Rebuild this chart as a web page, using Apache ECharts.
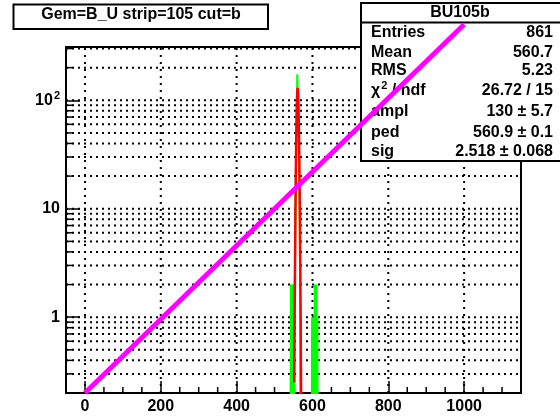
<!DOCTYPE html>
<html>
<head>
<meta charset="utf-8">
<script src="https://cdn.jsdelivr.net/npm/echarts@6/dist/echarts.min.js"></script>
<style>html,body{margin:0;padding:0;background:#fff}#c{width:560px;height:417px}</style>
</head>
<body>
<div id="c"></div>
<script>
// ---- data ----
const titleText = 'Gem=B_U strip=105 cut=b';
const statsTitle = 'BU105b';
const statsLabels = ['Entries', 'Mean', 'RMS', 'chi2', 'ampl', 'ped', 'sig'];
const statsValues = ['861', '560.7', '5.23', '26.72 / 15', '130 \u00b1 5.7', '560.9 \u00b1 0.1', '2.518 \u00b1 0.068'];

const xRange = [-50, 1150];
const yRange = [0.2, 310];
const xTickValues = [0, 200, 400, 600, 800, 1000];
const xMinorTickValues = [-50, 50, 100, 150, 250, 300, 350, 450, 500, 550, 650, 700, 750, 850, 900, 950, 1050, 1100, 1150];
const yTickValues = [1, 10, 100];
const yMinorTickValues = [0.3, 0.4, 0.5, 0.6, 0.7, 0.8, 0.9, 2, 3, 4, 5, 6, 7, 8, 9, 20, 30, 40, 50, 60, 70, 80, 90, 200, 300];
const yGridValues = [0.3, 0.4, 0.5, 0.6, 0.7, 0.8, 0.9, 1, 2, 3, 4, 5, 6, 7, 8, 9, 10, 20, 30, 40, 50, 60, 70, 80, 90, 100, 200, 300];

// histogram (bin low edges, counts)
const histX = [541, 542, 543, 544, 545, 546, 547, 548, 549, 550, 551, 552, 553, 554, 555, 556, 557, 558, 559, 560,
               561, 562, 563, 564, 565, 566, 567, 568, 569, 570,
               597, 598, 599, 600, 601, 602, 603, 604, 605, 606, 607, 608, 609, 610, 611, 612, 613, 614, 615, 616, 617];
const histY = [0, 0, 2, 0, 1, 0, 2, 1, 0, 2, 0, 1, 1, 3, 7, 15, 34, 62, 101, 174,
               128, 112, 84, 52, 27, 11, 4, 1, 0, 0,
               0, 0, 1, 0, 1, 0, 1, 1, 0, 2, 1, 2, 0, 2, 1, 0, 1, 1, 0, 0, 0];

// fitted curve points
const fitX = [552, 553, 554, 555, 556, 557, 558, 559, 560, 561, 562, 563, 564, 565, 566, 567, 568, 569, 570];
const fitY = [0.25, 0.95, 3.0, 8.3, 19.6, 39.2, 67, 97.8, 122, 130, 118, 91.8, 61, 34.5, 16.7, 6.9, 2.44, 0.74, 0.19];

// magenta straight line end points
const lineX = [0, 1000];
const lineY = [0.2, 500];

// ---- build ----
const FLOOR = 1e-3;
const histData = histX.map((x, i) => [x, histY[i] > 0 ? histY[i] : FLOOR]);
histData.push([histX[histX.length - 1] + 1, FLOOR]);
const fitData = fitX.map((x, i) => [x, fitY[i]]);
const lineData = lineX.map((x, i) => [x, lineY[i]]);

const FONT = '"Liberation Sans", Arial, Helvetica, sans-serif';
const dotted = { stroke: '#000', lineWidth: 2, lineDash: [2, 4] };

function hGrid(params, api) {
  const v = api.value(1);
  const a = api.coord([xRange[0], v]);
  const b = api.coord([xRange[1], v]);
  return { type: 'line', shape: { x1: a[0], y1: a[1], x2: b[0], y2: b[1] }, style: dotted, silent: true };
}
function vGrid(params, api) {
  const v = api.value(0);
  const a = api.coord([v, yRange[0]]);
  const b = api.coord([v, yRange[1]]);
  return { type: 'line', shape: { x1: a[0], y1: a[1], x2: b[0], y2: b[1] }, style: { stroke: '#000', lineWidth: 2, lineDash: [2, 5] }, silent: true };
}
function yMinor(params, api) {
  const a = api.coord([xRange[0], api.value(1)]);
  return { type: 'line', shape: { x1: a[0], y1: a[1], x2: a[0] + 7, y2: a[1] }, style: { stroke: '#000', lineWidth: 1.5 }, silent: true };
}
function xMinor(params, api) {
  const a = api.coord([api.value(0), yRange[0]]);
  return { type: 'line', shape: { x1: a[0], y1: a[1], x2: a[0], y2: a[1] - 6 }, style: { stroke: '#000', lineWidth: 1.5 }, silent: true };
}

const rowY = [33, 52.5, 71, 90.5, 111.5, 133, 152];
const statsElems = [
  { type: 'rect', z: 5, shape: { x: 361, y: 3, width: 210, height: 158 }, style: { fill: '#fff', stroke: '#000', lineWidth: 2 } },
  { type: 'line', z: 5, shape: { x1: 361, y1: 22.5, x2: 570, y2: 22.5 }, style: { stroke: '#000', lineWidth: 2 } },
  { type: 'text', z: 6, x: 460, y: 13, style: { text: statsTitle, font: 'bold 16px ' + FONT, fill: '#000', align: 'center', verticalAlign: 'middle' } }
];
statsLabels.forEach((lab, i) => {
  if (lab === 'chi2') {
    statsElems.push({ type: 'text', z: 6, x: 371, y: rowY[i], style: {
      text: '{a|\u03c7}{s|2}{a| / ndf}', fill: '#000', align: 'left', verticalAlign: 'middle',
      rich: { a: { font: 'bold 16px ' + FONT, fill: '#000' }, s: { font: 'bold 11px ' + FONT, fill: '#000', padding: [0, 0, 9, 1] } } } });
  } else {
    statsElems.push({ type: 'text', z: 6, x: 371, y: rowY[i], style: { text: lab, font: 'bold 16px ' + FONT, fill: '#000', align: 'left', verticalAlign: 'middle' } });
  }
  statsElems.push({ type: 'text', z: 6, x: 553, y: rowY[i], style: { text: statsValues[i], font: 'bold 16px ' + FONT, fill: '#000', align: 'right', verticalAlign: 'middle' } });
});

const titleElems = [
  { type: 'rect', z: 5, shape: { x: 13.5, y: 4.5, width: 254.5, height: 24.5 }, style: { fill: '#fff', stroke: '#000', lineWidth: 2 } },
  { type: 'text', z: 6, x: 141, y: 15, style: { text: titleText, font: 'bold 16px ' + FONT, fill: '#000', align: 'center', verticalAlign: 'middle' } }
];

const chart = echarts.init(document.getElementById('c'), null, { renderer: 'canvas' });
chart.setOption({
  animation: false,
  backgroundColor: '#fff',
  grid: { left: 66, top: 47, right: 39, bottom: 24, show: true, borderColor: '#000', borderWidth: 2, backgroundColor: 'transparent' },
  xAxis: {
    type: 'value', min: xRange[0], max: xRange[1],
    axisLine: { show: true, onZero: false, lineStyle: { color: '#000', width: 2 } },
    axisTick: { show: true, inside: true, length: 12, customValues: xTickValues, lineStyle: { color: '#000', width: 1.5 } },
    axisLabel: { show: true, customValues: xTickValues, margin: 6, color: '#000', fontFamily: FONT, fontWeight: 'bold', fontSize: 16,
      formatter: function (v) { return String(Math.round(v)); } },
    splitLine: { show: false }
  },
  yAxis: {
    type: 'log', logBase: 10, min: yRange[0], max: yRange[1],
    axisLine: { show: true, onZero: false, lineStyle: { color: '#000', width: 2 } },
    axisTick: { show: true, inside: true, length: 14, customValues: yTickValues, lineStyle: { color: '#000', width: 1.5 } },
    axisLabel: {
      show: true, customValues: yTickValues, margin: 6, color: '#000', fontFamily: FONT, fontWeight: 'bold', fontSize: 16,
      formatter: function (v) { return v >= 100 ? '{b|10}{s|2}' : String(Math.round(v)); },
      rich: { b: { fontFamily: FONT, fontWeight: 'bold', fontSize: 16, color: '#000' }, s: { fontFamily: FONT, fontWeight: 'bold', fontSize: 11, color: '#000', padding: [0, 0, 9, 1] } }
    },
    splitLine: { show: false }
  },
  graphic: { elements: titleElems.concat(statsElems) },
  series: [
    { type: 'custom', z: 1, clip: false, silent: true, data: yGridValues.map(v => [xRange[0], v]), renderItem: hGrid },
    { type: 'custom', z: 1, clip: false, silent: true, data: xTickValues.map(v => [v, yRange[0]]), renderItem: vGrid },
    { type: 'custom', z: 2, clip: false, silent: true, data: yMinorTickValues.map(v => [xRange[0], v]), renderItem: yMinor },
    { type: 'custom', z: 2, clip: false, silent: true, data: xMinorTickValues.map(v => [v, yRange[0]]), renderItem: xMinor },
    { type: 'line', z: 3, step: 'end', data: histData, showSymbol: false, symbol: 'none', clip: true,
      lineStyle: { color: '#00ff00', width: 2 } },
    { type: 'line', z: 4, data: fitData, showSymbol: false, symbol: 'none', clip: true,
      lineStyle: { color: '#ff0000', width: 2.5 } },
    { type: 'line', z: 10, zlevel: 0, data: lineData, showSymbol: false, symbol: 'none', clip: false,
      lineStyle: { color: '#ff00ff', width: 5 } }
  ]
});
</script>
</body>
</html>
